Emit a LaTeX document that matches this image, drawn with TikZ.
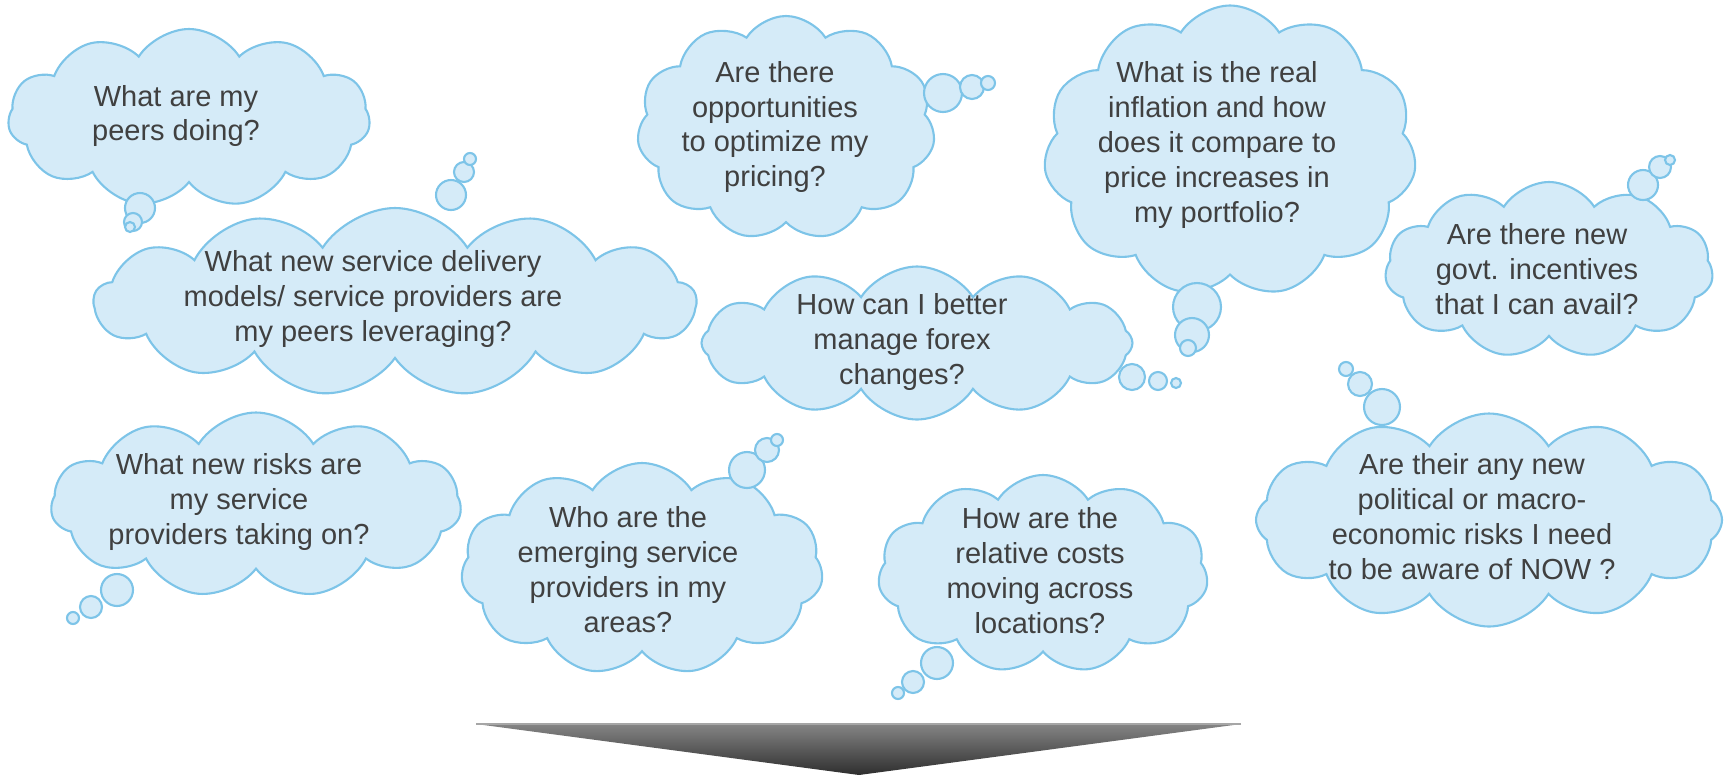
\documentclass[tikz,border=0pt]{standalone}
\usepackage{fontspec}
\setmainfont{Liberation Sans}
\usetikzlibrary{shapes.symbols}
\definecolor{cloudfill}{HTML}{D5EBF8}
\definecolor{cloudline}{HTML}{7DC4E8}
\definecolor{qtext}{HTML}{404040}

\begin{document}
\begin{tikzpicture}[x=0.02cm, y=-0.02cm,
    thought/.style 2 args={cloud, cloud puffs=11, cloud puff arc=115, cloud ignores aspect, draw=cloudline, fill=cloudfill, line width=1.2pt, inner sep=0pt, minimum width=#1*0.02cm, minimum height=#2*0.02cm},
    bubble/.style={circle, draw=cloudline, fill=cloudfill, line width=1.2pt, inner sep=0pt, minimum size=#1*0.04cm},
    question/.style={align=center, text=qtext, inner sep=0pt, font=\fontsize{16.5}{19.9}\selectfont}]
    \useasboundingbox (0,0) rectangle (1727,775);

    % Reference coordinates
    \coordinate (arrowL) at (476,724);
    \coordinate (arrowR) at (1241,724);
    \coordinate (arrowTip) at (859,775);

    % Clouds
    \node[thought={362}{178}] (peers) at (189,118) {};
    \node[thought={602}{188}, cloud puffs=13] (models) at (395,302) {};
    \node[thought={298}{224}] (pricing) at (786,128) {};
    \node[thought={373}{291}] (inflation) at (1230,151) {};
    \node[thought={431}{153}, cloud puffs=12] (forex) at (917,343) {};
    \node[thought={328}{176}] (incentives) at (1549,270) {};
    \node[thought={410}{185}] (risks) at (256,505) {};
    \node[thought={362}{212}] (emerging) at (642,569) {};
    \node[thought={330}{198}] (costs) at (1043,574) {};
    \node[thought={466}{213}, cloud puffs=12] (macro) at (1489,520) {};

    % Bubbles
    \node[bubble=15] (peersA) at (140,208) {};
    \node[bubble=9] (peersB) at (133,222) {};
    \node[bubble=5] (peersC) at (130,227) {};
    \node[bubble=15] (modelsA) at (451,195) {};
    \node[bubble=10] (modelsB) at (464,172) {};
    \node[bubble=6] (modelsC) at (470,159) {};
    \node[bubble=19] (pricingA) at (943,93) {};
    \node[bubble=12] (pricingB) at (972,87) {};
    \node[bubble=7] (pricingC) at (988,83) {};
    \node[bubble=24] (inflationA) at (1197,307) {};
    \node[bubble=17] (inflationB) at (1192,335) {};
    \node[bubble=8] (inflationC) at (1188,348) {};
    \node[bubble=13] (forexA) at (1132,377) {};
    \node[bubble=9] (forexB) at (1158,381) {};
    \node[bubble=5] (forexC) at (1176,383) {};
    \node[bubble=15] (incentivesA) at (1643,185) {};
    \node[bubble=11] (incentivesB) at (1660,167) {};
    \node[bubble=5] (incentivesC) at (1670,160) {};
    \node[bubble=16] (risksA) at (117,590) {};
    \node[bubble=11] (risksB) at (91,607) {};
    \node[bubble=6] (risksC) at (73,618) {};
    \node[bubble=18] (emergingA) at (747,470) {};
    \node[bubble=12] (emergingB) at (767,450) {};
    \node[bubble=6] (emergingC) at (777,440) {};
    \node[bubble=16] (costsA) at (937,663) {};
    \node[bubble=11] (costsB) at (913,682) {};
    \node[bubble=6] (costsC) at (898,693) {};
    \node[bubble=18] (macroA) at (1382,407) {};
    \node[bubble=12] (macroB) at (1360,384) {};
    \node[bubble=7] (macroC) at (1346,369) {};

    % Questions
    \node[question] (peersText) at (176,116) {What are my\\peers doing?};
    \node[question] (modelsText) at (373,299) {What new service delivery\\models/ service providers are\\my peers leveraging?};
    \node[question] (pricingText) at (775,127) {Are there\\opportunities\\to optimize my\\pricing?};
    \node[question] (inflationText) at (1217,145) {What is the real\\inflation and how\\does it compare to\\price increases in\\my portfolio?};
    \node[question] (forexText) at (902,342) {How can I better\\manage forex\\changes?};
    \node[question] (incentivesText) at (1537,269) {Are there new\\govt. incentives\\that I can avail?};
    \node[question] (risksText) at (239,502) {What new risks are\\my service\\providers taking on?};
    \node[question] (emergingText) at (628,570) {Who are the\\emerging service\\providers in my\\areas?};
    \node[question] (costsText) at (1040,571) {How are the\\relative costs\\moving across\\locations?};
    \node[question] (macroText) at (1472,517) {Are their any new\\political or macro-\\economic risks I need\\to be aware of NOW ?};

    % Down arrow
    \shade[top color=black!48, bottom color=black!82] (arrowL) -- (arrowR) -- (arrowTip) -- cycle;
    \draw[black!35, line width=0.6pt] (arrowL) -- (arrowR);

\end{tikzpicture}
\end{document}
